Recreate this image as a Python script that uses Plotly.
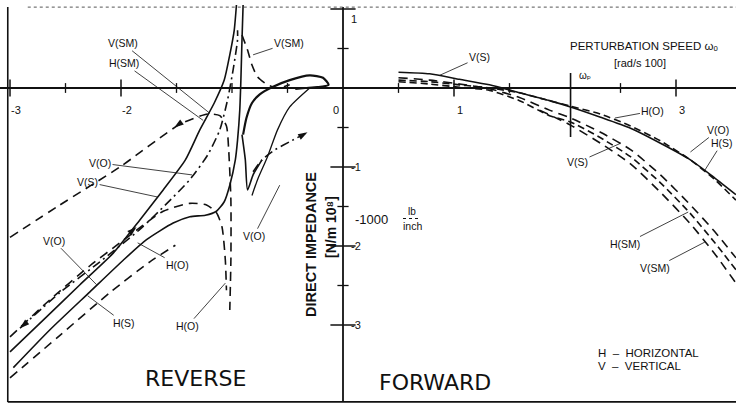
import plotly.graph_objects as go

# ---------------- data (impedance in 10^8 N/m vs perturbation speed in 100 rad/s) -------------
# REVERSE side
vsm_long_x = [-3.00, -2.55, -2.01, -1.47, -1.22, -1.11, -1.05, -1.03, -1.01, -1.01, -1.02]
vsm_long_y = [-1.89, -1.48, -1.00, -0.46, -0.33, -0.35, -0.48, -0.78, -1.42, -2.18, -2.81]

vs_rev_x = [-0.96, -0.98, -1.02, -1.07, -1.16, -1.29, -1.42, -1.62, -1.83, -2.07, -2.37, -2.68, -3.00]
vs_rev_y = [1.05, 0.73, 0.42, 0.10, -0.19, -0.53, -0.91, -1.29, -1.67, -2.09, -2.49, -2.91, -3.34]

ho_rev_x = [-0.90, -0.91, -0.92, -0.93, -0.95, -0.97, -1.02, -1.07, -1.14, -1.24, -1.38, -1.53, -1.77, -1.98, -2.28, -2.64, -2.97]
ho_rev_y = [1.05, 0.61, 0.10, -0.28, -0.66, -0.91, -1.23, -1.44, -1.56, -1.61, -1.63, -1.71, -1.92, -2.18, -2.58, -3.06, -3.54]

hod_rev_x = [-3.00, -2.64, -2.28, -2.01, -1.86, -1.62, -1.38, -1.23, -1.14, -1.09, -1.06, -1.05]
hod_rev_y = [-3.15, -2.68, -2.25, -1.96, -1.80, -1.56, -1.46, -1.48, -1.58, -1.76, -2.18, -2.56]

hsm_rev_x = [-3.00, -2.55, -2.10, -1.74, -1.51]
hsm_rev_y = [-3.67, -3.13, -2.59, -2.20, -1.99]

vo_rev_x = [-2.91, -2.55, -2.19, -1.83, -1.60, -1.38, -1.22, -1.11, -1.04, -0.99, -0.95, -0.95]
vo_rev_y = [-3.04, -2.59, -2.20, -1.79, -1.48, -1.16, -0.85, -0.53, -0.15, 0.23, 0.61, 0.73]

vsm_right_x = [-0.91, -0.86, -0.82, -0.77, -0.68, -0.59, -0.48]
vsm_right_y = [0.67, 0.48, 0.29, 0.14, 0.04, 0.00, 0.04]

hook_x = [-0.90, -0.87, -0.82, -0.75, -0.64, -0.48, -0.30, -0.18, -0.13, -0.23, -0.34, -0.43]
hook_y = [-0.59, -0.38, -0.19, -0.08, 0.01, 0.10, 0.16, 0.13, 0.04, 0.01, 0.00, -0.01]

hook_tail_x = [-0.30, -0.48, -0.59, -0.68, -0.77, -0.82]
hook_tail_y = [0.00, -0.24, -0.53, -0.87, -1.16, -1.36]

vo_loop_x = [-0.81, -0.73, -0.61, -0.48, -0.32]
vo_loop_y = [-1.06, -0.91, -0.78, -0.68, -0.56]

notch_x = [-0.91, -0.88, -0.86, -0.81, -0.73]
notch_y = [-0.59, -0.91, -1.29, -1.10, -0.91]

# FORWARD side
fwd_x = [0.50, 0.78, 1.05, 1.32, 1.59, 1.86, 2.05, 2.32, 2.59, 2.86, 3.13, 3.35, 3.54]
vo_fwd_y = [0.20, 0.18, 0.11, 0.04, -0.06, -0.16, -0.24, -0.37, -0.51, -0.70, -0.91, -1.14, -1.35]
hs_fwd_y = [0.10, 0.08, 0.04, 0.00, -0.06, -0.16, -0.23, -0.33, -0.48, -0.67, -0.91, -1.16, -1.42]
vs_fwd_y = [0.13, 0.10, 0.05, -0.01, -0.12, -0.28, -0.38, -0.56, -0.78, -1.10, -1.48, -1.82, -2.15]
hsm_fwd_y = [0.08, 0.05, 0.01, -0.03, -0.16, -0.35, -0.43, -0.63, -0.87, -1.20, -1.59, -1.96, -2.30]
vsm_fwd_x = [1.77, 2.05, 2.32, 2.59, 2.86, 3.13, 3.35, 3.54]
vsm_fwd_y = [-0.28, -0.47, -0.70, -0.96, -1.32, -1.72, -2.10, -2.47]

# direction arrowheads drawn on curves (position and screen angle in degrees)
arrow_x = [-1.52, -2.91, -0.32, -1.86]
arrow_y = [-0.50, -3.04, -0.56, -1.76]
arrow_angle = [234, 229, 60, 49]

# axis ticks and labels
xticks_major = [-3, -2, 1, 3]
xticks_minor = [-2.5, -1.5, -1, -0.5, 0.5, 1.5, 2.5]
yticks_major = [1, -1, -2, -3]
yticks_minor = [0.5, -0.5, -1.5, -2.5]
xtick_labels = ["-3", "-2", "0", "1", "3"]
xtick_label_pos = [-3, -2, 0, 1, 3]
ytick_labels = ["1", "-1", "-2", "-3"]
omega_p = 2.05

X0, X1 = -343 / 111, 393 / 111
Y0, Y1 = -321 / 79, 88 / 79

BLACK = "#111111"
fig = go.Figure()


def add_line(x, y, dash="solid", width=1.6):
    fig.add_trace(go.Scatter(x=x, y=y, mode="lines", line=dict(color=BLACK, width=width, dash=dash,
                                                                 shape="spline", smoothing=0.6),
                             hoverinfo="skip", showlegend=False))


LONG = "9px,6px"
DASHDOT = "9px,4px,2px,4px"
MED = "7px,4px"

# reverse
add_line(vsm_long_x, vsm_long_y, LONG)
add_line(vs_rev_x, vs_rev_y, "solid")
add_line(ho_rev_x, ho_rev_y, "solid")
add_line(hod_rev_x, hod_rev_y, LONG)
add_line(hsm_rev_x, hsm_rev_y, LONG)
add_line(vo_rev_x, vo_rev_y, DASHDOT)
add_line(vsm_right_x, vsm_right_y, LONG)
add_line(hook_x, hook_y, "solid", 2.2)
add_line(hook_tail_x, hook_tail_y, "solid", 1.3)
add_line(vo_loop_x, vo_loop_y, DASHDOT)
add_line(notch_x, notch_y, "solid", 1.6)

# forward
add_line(fwd_x, vo_fwd_y, "solid")
add_line(fwd_x, hs_fwd_y, MED)
add_line(fwd_x, vs_fwd_y, LONG)
add_line(fwd_x, hsm_fwd_y, MED)
add_line(vsm_fwd_x, vsm_fwd_y, LONG)

# arrowheads
fig.add_trace(go.Scatter(x=arrow_x, y=arrow_y, mode="markers",
                         marker=dict(symbol="arrow", size=10, angle=arrow_angle, color=BLACK,
                                     line=dict(width=0)),
                         hoverinfo="skip", showlegend=False))

# axes
fig.add_shape(type="line", x0=X0, x1=X1, y0=0, y1=0, line=dict(color=BLACK, width=1.8))
fig.add_shape(type="line", x0=0, x1=0, y0=Y1 - 0.09, y1=Y0 + 0.09, line=dict(color=BLACK, width=1.8))
fig.add_shape(type="line", x0=omega_p, x1=omega_p, y0=0.19, y1=-0.62, line=dict(color=BLACK, width=1.6))
# frame
fig.add_shape(type="line", x0=X0 + 0.07, x1=X0 + 0.07, y0=Y1 - 0.09, y1=Y0 + 0.09, line=dict(color=BLACK, width=1.6))
fig.add_shape(type="line", x0=X0 + 0.07, x1=X1, y0=Y0 + 0.09, y1=Y0 + 0.09, line=dict(color=BLACK, width=1.6))
fig.add_shape(type="line", x0=X0 + 0.25, x1=X1, y0=Y1 - 0.09, y1=Y1 - 0.09, line=dict(color="#555", width=1, dash="dot"))
# fraction bar of lb/inch
fig.add_shape(type="line", xref="paper", yref="paper", x0=403 / 736, x1=421 / 736,
              y0=1 - 218.5 / 409, y1=1 - 218.5 / 409, line=dict(color=BLACK, width=1, dash="dot"))

# tick marks
fig.add_trace(go.Scatter(x=xticks_major, y=[0] * len(xticks_major), mode="markers",
                         marker=dict(symbol="line-ns", size=12, line=dict(color=BLACK, width=1.5)),
                         hoverinfo="skip", showlegend=False))
fig.add_trace(go.Scatter(x=xticks_minor, y=[0] * len(xticks_minor), mode="markers",
                         marker=dict(symbol="line-ns", size=7, line=dict(color=BLACK, width=1.3)),
                         hoverinfo="skip", showlegend=False))
fig.add_trace(go.Scatter(x=[0] * len(yticks_major), y=yticks_major, mode="markers",
                         marker=dict(symbol="line-ew", size=18, line=dict(color=BLACK, width=1.5)),
                         hoverinfo="skip", showlegend=False))
fig.add_trace(go.Scatter(x=[0] * len(yticks_minor), y=yticks_minor, mode="markers",
                         marker=dict(symbol="line-ew", size=8, line=dict(color=BLACK, width=1.3)),
                         hoverinfo="skip", showlegend=False))

FONT = "Liberation Sans, DejaVu Sans, Arial, sans-serif"
ann = []


def px(xp, yp):
    return xp / 736, 1 - yp / 409


def text(xp, yp, s, size=11, xanchor="center", angle=0, family=FONT, weight=None):
    x, y = px(xp, yp)
    f = dict(size=size, color=BLACK, family=family)
    if weight:
        f["weight"] = weight
    ann.append(dict(x=x, y=y, xref="paper", yref="paper", text=s, showarrow=False,
                    xanchor=xanchor, yanchor="middle", font=f, textangle=angle))


# tick labels
for lab, pos in zip(xtick_labels, xtick_label_pos):
    dx = -7 if pos == 0 else 6
    ann.append(dict(x=pos, y=0, xref="x", yref="y", text=lab, showarrow=False, xshift=dx, yshift=-22,
                    font=dict(size=11, color=BLACK, family=FONT)))
for lab, pos in zip(ytick_labels, yticks_major):
    ann.append(dict(x=0, y=pos, xref="x", yref="y", text=lab, showarrow=False, xshift=6,
                    yshift=-10 if pos > 0 else 0, xanchor="left",
                    font=dict(size=11, color=BLACK, family=FONT)))


def label(x, y, s, ax, ay):
    ann.append(dict(x=x, y=y, xref="x", yref="y", text=s, showarrow=True, ax=ax, ay=ay,
                    arrowhead=0, arrowwidth=0.8, arrowcolor=BLACK, standoff=0,
                    font=dict(size=10.5, color=BLACK, family=FONT)))


# curve labels (reverse)
label(-1.20, -0.32, "V(SM)", -87, -70)
label(-1.26, -0.41, "H(SM)", -79, -57)
label(-0.81, 0.42, "V(SM)", 36, -12)
label(-1.36, -1.10, "V(O)", -92, -12)
label(-1.67, -1.38, "V(S)", -70, -15)
label(-2.22, -2.49, "V(O)", -43, -44)
label(-1.85, -1.96, "H(O)", 40, 22)
label(-1.06, -2.47, "H(O)", -38, 43)
label(-2.30, -2.63, "H(S)", 36, 27)
label(-0.57, -1.23, "V(O)", -26, 51)
# curve labels (forward)
label(0.87, 0.16, "V(S)", 40, -18)
label(2.45, -0.38, "H(O)", 38, -7)
label(3.13, -0.81, "V(O)", 28, -22)
label(3.26, -1.04, "H(S)", 17, -27)
label(2.50, -0.70, "V(S)", -43, 19)
label(3.11, -1.57, "H(SM)", -63, 32)
label(3.26, -1.95, "V(SM)", -50, 26)

# other texts
BIG = "DejaVu Sans, sans-serif"
text(568, 46, "PERTURBATION SPEED ωₒ", 11.5, "left")
text(640, 63, "[rad/s 100]", 11)
text(585, 75, "ωₚ", 10)
text(353, 219, "-1000", 13, "left")
text(412, 211, "lb", 10)
text(412, 226, "inch", 10.5)
text(311, 245, "DIRECT IMPEDANCE", 14.5, angle=-90, weight="bold")
text(331, 227, "[N/m 10⁸]", 14, angle=-90, weight="bold")
text(195, 378, "REVERSE", 22, family=BIG)
text(435, 382, "FORWARD", 22, family=BIG)
text(596, 353, "H  –  HORIZONTAL", 11.5, "left")
text(596, 366, "V  –  VERTICAL", 11.5, "left")

fig.update_layout(
    width=736, height=409, margin=dict(l=0, r=0, t=0, b=0),
    paper_bgcolor="white", plot_bgcolor="white",
    xaxis=dict(range=[X0, X1], visible=False, fixedrange=True),
    yaxis=dict(range=[Y0, Y1], visible=False, fixedrange=True),
    annotations=ann, showlegend=False,
)
fig.write_html("out.html")
